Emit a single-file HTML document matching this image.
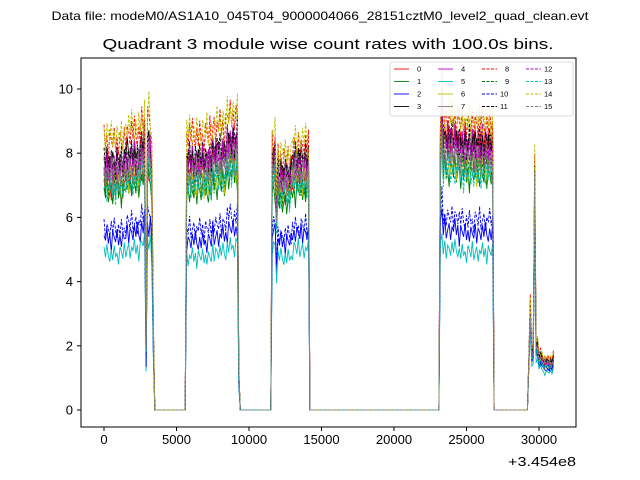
<!DOCTYPE html>
<html><head><meta charset="utf-8"><style>
body{margin:0;background:#fff;}
svg{font-family:"Liberation Sans","DejaVu Sans",sans-serif;display:block}
</style></head><body>
<svg id="chart" width="640" height="480" viewBox="0 0 640 480">
<rect width="640" height="480" fill="#fff"/>
<text x="320" y="20" text-anchor="middle" font-size="12" textLength="537" lengthAdjust="spacingAndGlyphs">Data file: modeM0/AS1A10_045T04_9000004066_28151cztM0_level2_quad_clean.evt</text>
<text x="328" y="49" text-anchor="middle" font-size="15" textLength="451" lengthAdjust="spacingAndGlyphs">Quadrant 3 module wise count rates with 100.0s bins.</text>
<g id="plot"></g>
<rect x="81" y="58" width="495" height="369" fill="none" stroke="#000" stroke-width="1"/>
<g id="ticks"></g>
<text x="576" y="466" text-anchor="end" font-size="13" textLength="68" lengthAdjust="spacingAndGlyphs">+3.454e8</text>
<g id="legend"></g>
</svg>
<script>
const xTicks=[0,5000,10000,15000,20000,25000,30000];
const yTicks=[0,2,4,6,8,10];
const seriesNames=["0","1","2","3","4","5","6","7","8","9","10","11","12","13","14","15"];
// level of each module per active segment
const seg1=[7.2,7.0,5.5,8.0,7.8,5.0,7.3,7.6,8.6,7.2,5.8,7.9,7.7,7.1,8.8,7.5];
const seg2=[7.8,7.0,5.4,8.0,8.0,4.9,7.2,7.6,8.8,7.3,5.8,8.1,7.9,7.2,8.9,7.6];
const seg3=[7.2,6.8,5.5,7.8,7.5,5.0,7.2,7.5,8.2,7.0,5.7,7.8,7.6,7.0,8.4,7.4];
const seg4=[8.3,7.3,5.5,8.2,8.3,4.9,7.5,7.8,8.9,7.6,5.9,8.3,8.0,7.3,9.0,7.8];
const seg5=[1.6,1.5,1.4,1.7,1.6,1.3,1.5,1.6,1.8,1.5,1.5,1.7,1.6,1.5,1.8,1.6];
// time breakpoints: [start time, segment index (0 = off), scale factor]
const profile=[[0,1,0.97],[1500,1,1.0],[2600,1,1.04],[2800,1,1.05],[2900,1,0.25],[3000,1,1.05],[3300,1,0.9],[3400,1,0.35],[3500,0,0],
[5700,2,0.97],[7500,2,1.0],[8500,2,1.04],[9200,2,1.05],[9300,2,0.15],[9400,0,0],
[11600,3,1.02],[11900,3,0.82],[12000,3,0.95],[13000,3,1.0],[14100,3,1],[14200,0,0],
[23200,4,1.02],[23300,4,1.12],[23400,4,1.02],[24500,4,1.0],[26800,4,1],[26900,0,0],
[29300,5,1],[29400,5,1.9],[29500,5,1.1],[29700,5,4.4],[29800,5,1.2],[30000,5,1.0],[30300,5,0.9],[31000,5,1]];
const jitter=[0.3,-0.4,0.6,-0.2,0.1,-0.7,0.5,0.2,-0.3,0.8,-0.5,0.0,0.4,-0.6,0.2,-0.1,0.7,-0.3,0.3,-0.8,0.5,0.1,-0.2,0.6,-0.4,0.2,-0.5,0.4,0.0,-0.3,0.6,-0.6,0.3,0.1,-0.4,0.5,-0.2,0.7,-0.1,-0.5];
const colors=["#ff0000","#008000","#0000ff","#000000","#bf00bf","#00bfbf","#bfbf00","#808080"];
const NS="http://www.w3.org/2000/svg";
const X=t=>104+t*0.0145, Y=v=>410-v*32.1;
function mk(tag,attrs,parent){const e=document.createElementNS(NS,tag);for(const k in attrs)e.setAttribute(k,attrs[k]);parent.appendChild(e);return e;}
const segs=[null,seg1,seg2,seg3,seg4,seg5];
function stateAt(t){let s=profile[0];for(const p of profile){if(p[0]<=t)s=p;}return s;}
const plot=document.getElementById('plot');
for(let i=0;i<16;i++){
  let pts=[];
  for(let t=0;t<=31000;t+=100){
    const s=stateAt(t);
    let v=0;
    if(s[1]>0){const lv=segs[s[1]][i];const j=0.75*jitter[(t/100+i*7)%jitter.length]*(lv/8);v=(lv+j)*s[2];}
    pts.push(X(t).toFixed(1)+","+Y(v).toFixed(1));
  }
  const pl=mk('polyline',{points:pts.join(" "),fill:"none",stroke:colors[i%8],"stroke-width":0.9,"stroke-dasharray":i>=8?"3,1.5":"none"},plot);
  
  
}
const tk=document.getElementById('ticks');
for(const t of xTicks){
  mk('line',{x1:X(t),x2:X(t),y1:427,y2:431,stroke:"#000"},tk);
  const tx=mk('text',{x:X(t),y:444,"text-anchor":"middle","font-size":13},tk);tx.textContent=t;
  
  
}
for(const v of yTicks){
  mk('line',{x1:77,x2:81,y1:Y(v),y2:Y(v),stroke:"#000"},tk);
  const tx=mk('text',{x:73,y:Y(v)+4.5,"text-anchor":"end","font-size":13},tk);tx.textContent=v;
  
  
}
const lg=document.getElementById('legend');
mk('rect',{x:390,y:62,width:183,height:54,fill:"#fff",stroke:"#ccc","stroke-width":0.8,rx:2,opacity:0.9},lg);
for(let i=0;i<16;i++){
  const c=Math.floor(i/4),r=i%4;const x=394+c*44,y=69+r*12.5;
  mk('line',{x1:x,x2:x+15,y1:y,y2:y,stroke:colors[i%8],"stroke-width":0.9,"stroke-dasharray":i>=8?"3,1.5":"none"},lg);
  const tx=mk('text',{x:x+(i>=10?18:23),y:y+2.5,"font-size":7.5},lg);tx.textContent=seriesNames[i];
  
  
}
</script>
</body></html>
